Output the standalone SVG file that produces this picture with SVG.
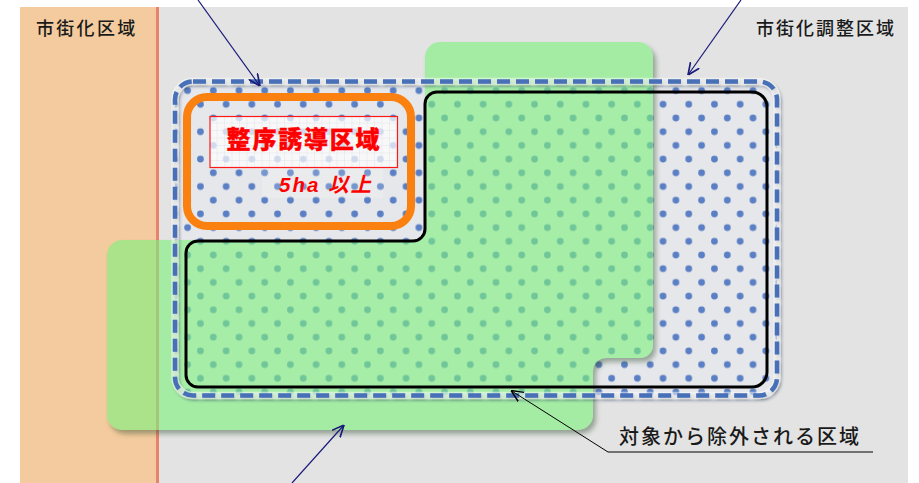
<svg xmlns="http://www.w3.org/2000/svg" width="919" height="483" viewBox="0 0 919 483">
  <defs>
    <pattern id="dots" patternUnits="userSpaceOnUse" x="206.9" y="248.15" width="25.7" height="27.4">
      <circle cx="6.4" cy="6.85" r="3.4" fill="#5A7FC4"/>
      <circle cx="19.25" cy="20.55" r="3.4" fill="#5A7FC4"/>
    </pattern>
    <pattern id="grid" patternUnits="userSpaceOnUse" x="210" y="116" width="7.5" height="7.5">
      <path d="M7.5,0 V7.5 M0,7.5 H7.5" stroke="#D3D8E4" stroke-width="0.6" fill="none"/>
    </pattern>
    <filter id="sh" x="-5%" y="-5%" width="115%" height="115%">
      <feDropShadow dx="3" dy="4" stdDeviation="2.5" flood-color="#2F4F2F" flood-opacity="0.7"/>
    </filter>
    <filter id="dsh" x="-5%" y="-5%" width="115%" height="115%">
      <feDropShadow dx="1.5" dy="2" stdDeviation="1.2" flood-color="#203050" flood-opacity="0.5"/>
    </filter>
    <marker id="arrN" viewBox="0 0 10 10" refX="10" refY="5" orient="auto" markerUnits="userSpaceOnUse" markerWidth="12" markerHeight="12">
      <path d="M0,0.5 L10,5 L0,9.5" fill="none" stroke="#1A1A7A" stroke-width="1.4"/>
    </marker>
    <marker id="arrK" viewBox="0 0 10 10" refX="10" refY="5" orient="auto" markerUnits="userSpaceOnUse" markerWidth="12" markerHeight="12">
      <path d="M0,0.5 L10,5 L0,9.5" fill="none" stroke="#000" stroke-width="1.2"/>
    </marker>
  </defs>
  <style>
    .lbl { font-family: "Noto Sans CJK JP", "Noto Sans", sans-serif; font-weight: 500; fill: #1A1A1A; }
    .nav { stroke: #1A1A7A; stroke-width: 1.2; fill: none; marker-end: url(#arrN); }
    .blk { stroke: #000; stroke-width: 1; fill: none; }
  </style>

  <!-- background -->
  <rect x="0" y="0" width="919" height="483" fill="#FFFFFF"/>
  <rect x="20" y="7" width="888" height="476" fill="#E3E3E3"/>
  <rect id="urban" x="20" y="7" width="137" height="476" fill="#F4CB9E"/>
  <line x1="157.5" y1="7" x2="157.5" y2="483" stroke="#E8826A" stroke-width="3"/>

  <!-- dotted area -->
  <g id="dotted-area">
    <rect x="175" y="81.5" width="602" height="314" rx="18" fill="#E6E7EA"/>
    <rect x="175" y="81.5" width="602" height="314" rx="18" fill="url(#dots)"/>
  </g>

  <!-- green region -->
  <g id="green-region" opacity="0.62" filter="url(#sh)">
    <path d="M440,42 H638 A15,15 0 0 1 653,57 V345 A13,13 0 0 1 640,358 H606 A13,13 0 0 0 593,371 V415 A15,15 0 0 1 578,430 H122 A15,15 0 0 1 107,415 V255 A15,15 0 0 1 122,240 H415 A10,10 0 0 0 425,230 V57 A15,15 0 0 1 440,42 Z" fill="#7FF27F"/>
  </g>

  <!-- excluded area outline -->
  <g id="excluded-outline">
    <path d="M437,92 H752 A15,15 0 0 1 767,107 V372 A15,15 0 0 1 752,387 H198 A12,12 0 0 1 186,375 V253 A12,12 0 0 1 198,241 H413 A12,12 0 0 0 425,229 V104 A12,12 0 0 1 437,92 Z" fill="none" stroke="#000" stroke-width="3"/>
  </g>

  <!-- dashed boundary -->
  <g id="dashed-boundary" filter="url(#dsh)">
    <rect x="175" y="81.5" width="602" height="314" rx="18" fill="none" stroke="#FFFFFF" stroke-opacity="0.5" stroke-width="7.5"/>
    <rect x="175" y="81.5" width="602" height="314" rx="18" fill="none" stroke="#4670B8" stroke-width="4.5" stroke-dasharray="13 6"/>
  </g>

  <!-- orange area -->
  <g id="guidance-area">
    <rect x="187" y="97" width="224" height="129" rx="20" fill="none" stroke="#FA8010" stroke-width="8"/>
    <rect x="210" y="116.5" width="187.5" height="51" fill="#FFFFFF" fill-opacity="0.72"/>
    <rect x="210" y="116.5" width="187.5" height="51" fill="url(#grid)"/>
    <rect x="210" y="116.5" width="187.5" height="51" fill="none" stroke="#FF1A1A" stroke-width="1.2"/>
    <rect x="262" y="169" width="121" height="29" fill="#FFFFFF" fill-opacity="0.18"/>
    <text x="304" y="147.5" text-anchor="middle" font-family="'Noto Sans CJK JP', sans-serif" font-size="24" font-weight="900" letter-spacing="1.8" fill="#FF0000" stroke="#FF0000" stroke-width="0.4">整序誘導区域</text>
    <text x="279" y="191.5" font-family="'Liberation Sans', 'Noto Sans CJK JP', sans-serif" font-size="20.5" font-weight="bold" font-style="italic" letter-spacing="2" fill="#FF0000">5ha 以上</text>
  </g>

  <!-- labels -->
  <text class="lbl" x="36" y="35" font-size="18" letter-spacing="2.3">市街化区域</text>
  <text class="lbl" x="756" y="35" font-size="18" letter-spacing="2">市街化調整区域</text>
  <text class="lbl" x="619" y="443.5" font-size="20" letter-spacing="2">対象から除外される区域</text>

  <!-- connectors -->
  <g id="connectors">
    <line class="nav" x1="198" y1="0" x2="260" y2="86"/>
    <line class="nav" x1="741" y1="0" x2="688" y2="75"/>
    <line class="nav" x1="292" y1="483" x2="344" y2="425"/>
    <line class="blk" x1="608" y1="452" x2="511" y2="390.5" marker-end="url(#arrK)"/>
    <line class="blk" x1="608" y1="452" x2="873" y2="452"/>
  </g>
</svg>
